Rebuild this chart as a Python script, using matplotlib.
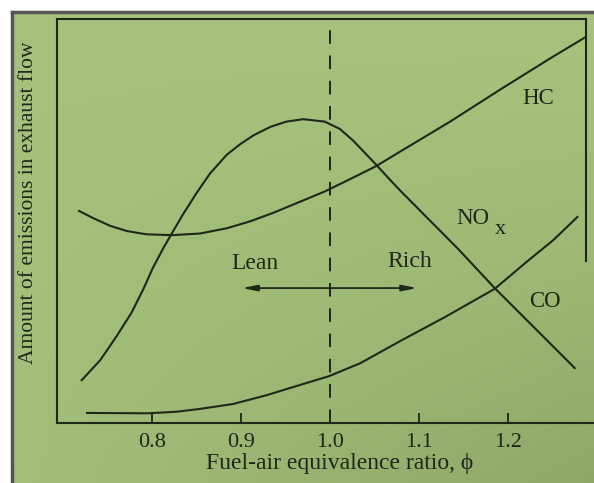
import numpy as np
import matplotlib
matplotlib.use("Agg")
import matplotlib.pyplot as plt

plt.rcParams['font.family'] = ['Liberation Serif', 'DejaVu Serif']

# emission curves vs fuel-air equivalence ratio (arbitrary units 0-100)
hc_phi = [0.718, 0.734, 0.753, 0.772, 0.794, 0.823, 0.854, 0.884, 0.910, 0.936,
          0.959, 0.994, 1.022, 1.052, 1.079, 1.135, 1.191, 1.247, 1.287]
hc_amt = [52.5, 50.7, 48.8, 47.5, 46.7, 46.5, 46.9, 48.2, 49.9, 52.0,
          54.1, 57.3, 60.3, 63.6, 67.2, 74.6, 82.5, 90.2, 95.5]

nox_phi = [0.721, 0.742, 0.760, 0.777, 0.790, 0.801, 0.813, 0.823, 0.835, 0.850,
           0.865, 0.884, 0.899, 0.914, 0.933, 0.951, 0.970, 0.994, 1.011, 1.026,
           1.039, 1.052, 1.067, 1.079, 1.143, 1.185, 1.275]
nox_amt = [10.6, 15.6, 21.4, 27.3, 33.0, 38.4, 43.4, 47.2, 51.7, 56.9,
           61.7, 66.4, 69.0, 71.2, 73.3, 74.6, 75.2, 74.6, 72.8, 69.9,
           66.9, 63.9, 60.3, 57.5, 43.3, 33.4, 13.6]

co_phi = [0.727, 0.795, 0.828, 0.854, 0.891, 0.929, 0.966, 0.999, 1.034, 1.079,
          1.129, 1.185, 1.221, 1.251, 1.278]
co_amt = [2.5, 2.4, 2.8, 3.5, 4.7, 6.9, 9.4, 11.6, 14.8, 20.3,
          26.2, 33.2, 39.9, 45.3, 51.0]

xticks = [0.8, 0.9, 1.0, 1.1, 1.2]
xtick_labels = ['0.8', '0.9', '1.0', '1.1', '1.2']
stoich = 1.0

ink = '#1f2718'

fig = plt.figure(figsize=(5.94, 4.83), dpi=100, facecolor='white')

# paper background with a little shading toward the lower right
bg = fig.add_axes([0, 0, 1, 1], zorder=-1)
gx, gy = np.meshgrid(np.linspace(0, 1, 200), np.linspace(0, 1, 200))
shade = np.clip(0.55 * gx * gy ** 1.5 + 0.1 * gy, 0, 1)[..., None]
light = np.array([0.650, 0.765, 0.490])
dark = np.array([0.50, 0.60, 0.36])
grad = light * (1 - shade) + dark * shade
bg.imshow(grad, extent=[12, 594, 483, 12], aspect='auto', interpolation='bilinear')
bg.plot([11.5, 594], [11.5, 11.5], color='#555555', lw=2.5)
bg.plot([11.5, 11.5], [11.5, 483], color='#555555', lw=2.5)
bg.plot([585, 594], [422.5, 422.5], color=ink, lw=1.5)
bg.set_xlim(0, 594)
bg.set_ylim(483, 0)
bg.axis('off')

ax = fig.add_axes([0.096, 0.1242, 0.8905, 0.8365])
ax.set_facecolor('none')

ax.plot(hc_phi, hc_amt, color=ink, lw=1.5, solid_joinstyle='round')
ax.plot(nox_phi, nox_amt, color=ink, lw=1.5, solid_joinstyle='round')
ax.plot(co_phi, co_amt, color=ink, lw=1.5, solid_joinstyle='round')
ax.axvline(stoich, color=ink, lw=1.4, linestyle=(0, (7, 6)))

ax.text(1.234, 80.2, 'HC', fontsize=16.5, color=ink, ha='center', va='center')
ax.text(1.160, 50.7, 'NO', fontsize=16.5, color=ink, ha='center', va='center')
ax.text(1.191, 48.0, 'x', fontsize=16, color=ink, ha='center', va='center')
ax.text(1.242, 30.0, 'CO', fontsize=16.5, color=ink, ha='center', va='center')
ax.text(0.916, 39.6, 'Lean', fontsize=17, color=ink, ha='center', va='center')
ax.text(1.090, 39.9, 'Rich', fontsize=17, color=ink, ha='center', va='center')
ax.annotate('', xy=(0.901, 33.4), xytext=(1.098, 33.4),
            arrowprops=dict(arrowstyle='<|-|>,head_length=0.9,head_width=0.18',
                            color=ink, lw=1.3, shrinkA=0, shrinkB=0))

ax.set_xlim(0.6933, 1.2876)
ax.set_ylim(0, 100)
ax.set_xticks(xticks)
ax.set_xticklabels(xtick_labels)
ax.set_yticks([])
ax.tick_params(axis='x', direction='in', length=7, width=1.3, colors=ink,
               labelsize=16, pad=7)

for side in ['left', 'top', 'bottom', 'right']:
    ax.spines[side].set_color(ink)
    ax.spines[side].set_linewidth(1.5)
ax.spines['right'].set_bounds(40, 100)

ax.set_xlabel('Fuel-air equivalence ratio, ϕ', fontsize=17, color=ink)
ax.xaxis.set_label_coords(0.535, -0.075)
ax.set_ylabel('Amount of emissions in exhaust flow', fontsize=15.5, color=ink)
ax.yaxis.set_label_coords(-0.036, 0.545)

fig.savefig('out.png', dpi=100, facecolor='white')
